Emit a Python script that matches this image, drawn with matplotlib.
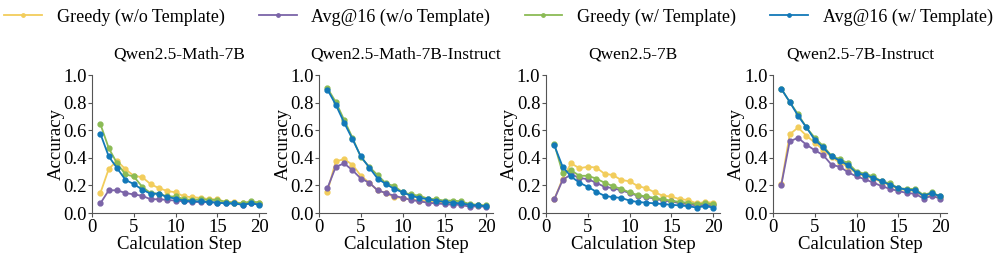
import matplotlib
matplotlib.use("Agg")
import matplotlib.pyplot as plt
import numpy as np

plt.rcParams['font.family'] = ['Liberation Serif', 'DejaVu Serif']
plt.rcParams['mathtext.fontset'] = 'stix'

steps = np.arange(1, 21)
models = ["Qwen2.5-Math-7B", "Qwen2.5-Math-7B-Instruct", "Qwen2.5-7B", "Qwen2.5-7B-Instruct"]
series_names = ["Greedy (w/o Template)", "Avg@16 (w/o Template)", "Greedy (w/ Template)", "Avg@16 (w/ Template)"]
colors = ["#f2cd5c", "#7b64a8", "#8bbb55", "#1278b8"]

# Qwen2.5-Math-7B
math7b_greedy_wo = [0.145, 0.32, 0.378, 0.317, 0.27, 0.26, 0.21, 0.18, 0.16, 0.15, 0.12, 0.115, 0.11, 0.10, 0.10, 0.08, 0.08, 0.07, 0.08, 0.075]
math7b_avg_wo = [0.07, 0.165, 0.165, 0.145, 0.135, 0.125, 0.10, 0.10, 0.095, 0.09, 0.085, 0.08, 0.08, 0.08, 0.075, 0.07, 0.07, 0.06, 0.075, 0.065]
math7b_greedy_w = [0.645, 0.47, 0.36, 0.28, 0.265, 0.19, 0.145, 0.14, 0.12, 0.12, 0.10, 0.095, 0.10, 0.095, 0.095, 0.08, 0.075, 0.07, 0.085, 0.075]
math7b_avg_w = [0.575, 0.41, 0.325, 0.24, 0.21, 0.17, 0.14, 0.14, 0.115, 0.105, 0.09, 0.085, 0.085, 0.08, 0.075, 0.07, 0.07, 0.06, 0.07, 0.06]

# Qwen2.5-Math-7B-Instruct
math7bi_greedy_wo = [0.155, 0.375, 0.39, 0.35, 0.27, 0.22, 0.165, 0.145, 0.115, 0.11, 0.10, 0.09, 0.085, 0.08, 0.075, 0.07, 0.065, 0.055, 0.055, 0.05]
math7bi_avg_wo = [0.18, 0.335, 0.36, 0.31, 0.25, 0.22, 0.165, 0.145, 0.125, 0.11, 0.095, 0.085, 0.075, 0.07, 0.065, 0.06, 0.06, 0.045, 0.05, 0.045]
math7bi_greedy_w = [0.905, 0.805, 0.675, 0.545, 0.405, 0.335, 0.275, 0.215, 0.195, 0.15, 0.135, 0.125, 0.105, 0.10, 0.09, 0.09, 0.085, 0.065, 0.06, 0.055]
math7bi_avg_w = [0.895, 0.785, 0.655, 0.535, 0.41, 0.33, 0.25, 0.21, 0.175, 0.15, 0.125, 0.11, 0.10, 0.09, 0.08, 0.075, 0.07, 0.06, 0.055, 0.05]

# Qwen2.5-7B
base7b_greedy_wo = [0.10, 0.25, 0.36, 0.325, 0.335, 0.33, 0.285, 0.275, 0.24, 0.23, 0.195, 0.18, 0.15, 0.125, 0.12, 0.10, 0.095, 0.07, 0.08, 0.075]
base7b_avg_wo = [0.10, 0.24, 0.28, 0.255, 0.245, 0.22, 0.19, 0.18, 0.165, 0.145, 0.125, 0.115, 0.105, 0.09, 0.085, 0.07, 0.065, 0.055, 0.06, 0.055]
base7b_greedy_w = [0.50, 0.29, 0.31, 0.27, 0.27, 0.25, 0.22, 0.195, 0.175, 0.15, 0.13, 0.12, 0.11, 0.10, 0.09, 0.08, 0.075, 0.065, 0.07, 0.065]
base7b_avg_w = [0.49, 0.335, 0.265, 0.22, 0.19, 0.155, 0.125, 0.115, 0.11, 0.09, 0.08, 0.075, 0.07, 0.065, 0.06, 0.055, 0.05, 0.04, 0.05, 0.04]

# Qwen2.5-7B-Instruct
inst7b_greedy_wo = [0.21, 0.57, 0.62, 0.56, 0.51, 0.46, 0.405, 0.365, 0.335, 0.285, 0.27, 0.25, 0.225, 0.20, 0.175, 0.165, 0.16, 0.12, 0.14, 0.115]
inst7b_avg_wo = [0.205, 0.52, 0.545, 0.495, 0.455, 0.42, 0.35, 0.335, 0.295, 0.265, 0.245, 0.22, 0.195, 0.175, 0.16, 0.145, 0.14, 0.105, 0.125, 0.105]
inst7b_greedy_w = [0.90, 0.805, 0.715, 0.62, 0.545, 0.485, 0.415, 0.39, 0.36, 0.30, 0.285, 0.265, 0.23, 0.215, 0.18, 0.175, 0.175, 0.13, 0.15, 0.12]
inst7b_avg_w = [0.90, 0.805, 0.705, 0.62, 0.53, 0.475, 0.41, 0.38, 0.345, 0.29, 0.275, 0.255, 0.23, 0.205, 0.18, 0.17, 0.165, 0.125, 0.145, 0.12]

panels = [
    [math7b_greedy_wo, math7b_avg_wo, math7b_greedy_w, math7b_avg_w],
    [math7bi_greedy_wo, math7bi_avg_wo, math7bi_greedy_w, math7bi_avg_w],
    [base7b_greedy_wo, base7b_avg_wo, base7b_greedy_w, base7b_avg_w],
    [inst7b_greedy_wo, inst7b_avg_wo, inst7b_greedy_w, inst7b_avg_w],
]

fig = plt.figure(figsize=(9.97, 2.57), dpi=100)
lefts = [0.0923, 0.3200, 0.5476, 0.7753]

handles = []
for i, (title, data) in enumerate(zip(models, panels)):
    ax = fig.add_axes([lefts[i], 0.171, 0.1745, 0.537])
    for j, ys in enumerate(data):
        line, = ax.plot(steps, ys, color=colors[j], marker='o', markersize=3.5,
                        linewidth=1.3, label=series_names[j])
        if i == 0:
            handles.append(line)
    ax.set_xlim(0, 20.8)
    ax.set_ylim(0, 1.0)
    ax.set_xticks([0, 5, 10, 15, 20])
    ax.set_yticks([0.0, 0.2, 0.4, 0.6, 0.8, 1.0])
    ax.set_yticklabels(["0.0", "0.2", "0.4", "0.6", "0.8", "1.0"])
    ax.spines['top'].set_visible(False)
    ax.spines['right'].set_visible(False)
    ax.spines['left'].set_color('#555555')
    ax.spines['bottom'].set_color('#555555')
    ax.tick_params(labelsize=13.5, length=3, color='#555555', pad=1)
    ax.set_title(title, fontsize=12.5, pad=12)
    ax.set_xlabel("Calculation Step", fontsize=13.5, labelpad=0)
    ax.set_ylabel("Accuracy", fontsize=13.5, labelpad=-1)

fig.legend(handles=handles, loc='upper center', bbox_to_anchor=(0.5, 1.03), ncol=4,
           frameon=False, fontsize=13, handlelength=2.1, columnspacing=1.9,
           markerscale=0.7)

plt.savefig("out.png", dpi=100)
